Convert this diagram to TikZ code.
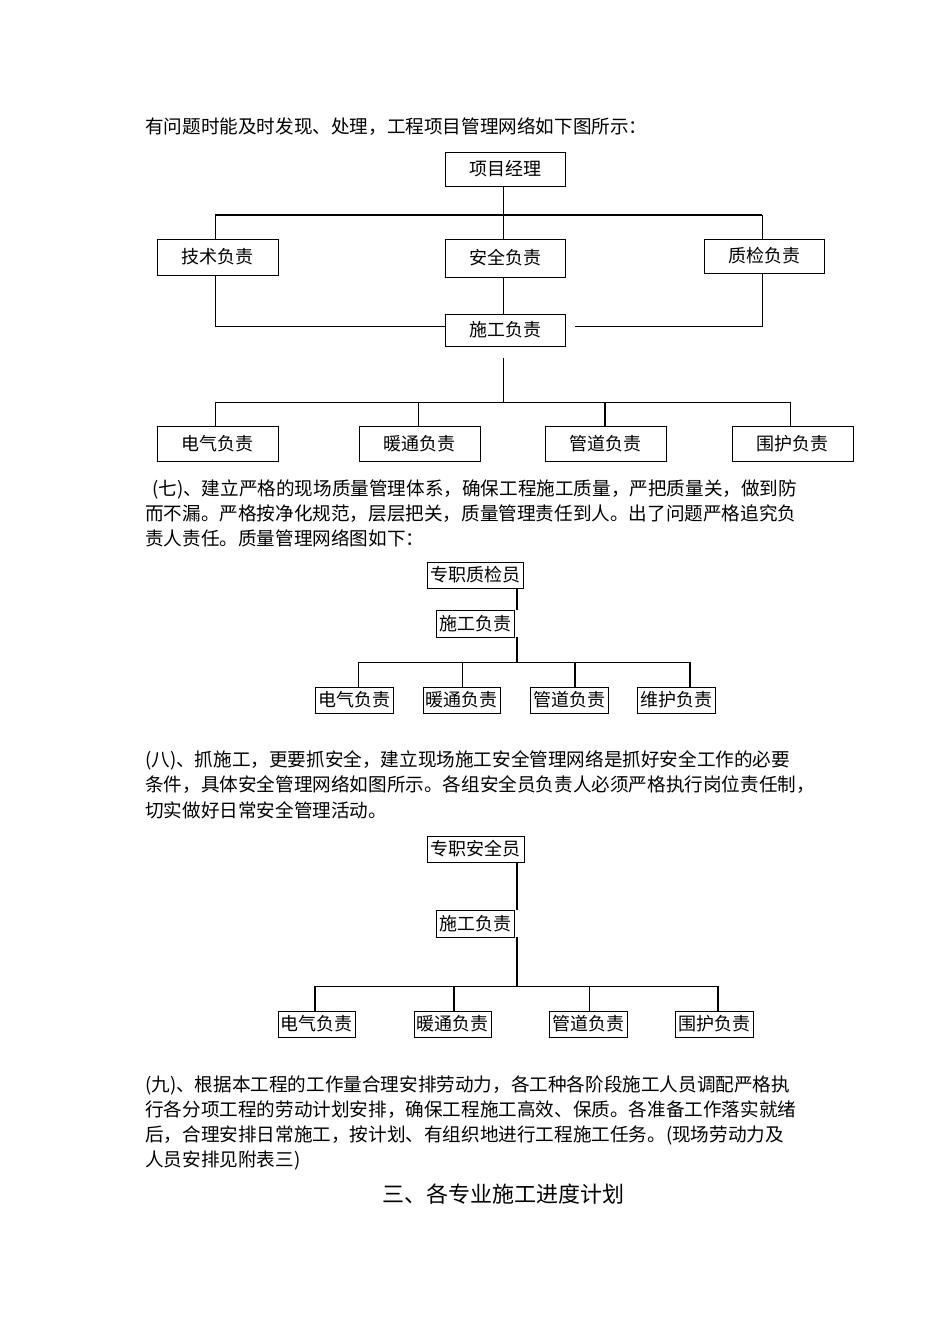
\documentclass[tikz,border=0pt]{standalone}
\usepackage{fontspec}
\setmainfont{Noto Sans CJK SC}
\begin{document}
\begin{tikzpicture}[x=1pt,y=-1pt,
  box/.style={draw,line width=1pt,inner sep=0pt,font=\fontsize{18}{18}\selectfont},
  sbox/.style={draw,line width=0.9pt,inner sep=0pt,font=\fontsize{18}{18}\selectfont},
  ln/.style={line width=1pt},
  tk/.style={line width=1.8pt},
  para/.style={anchor=west,inner sep=0pt,font=\fontsize{18.6}{18.6}\selectfont}]
\useasboundingbox (0,0) rectangle (950,1344);
% text
\node[para] (t0) at (145,127) {有问题时能及时发现、处理，工程项目管理网络如下图所示：};
\node[para] (t1) at (152,489) {(七)、建立严格的现场质量管理体系，确保工程施工质量，严把质量关，做到防};
\node[para] (t2) at (145,514) {而不漏。严格按净化规范，层层把关，质量管理责任到人。出了问题严格追究负};
\node[para] (t3) at (145,538) {责人责任。质量管理网络图如下：};
\node[para] (t4) at (145,760) {(八)、抓施工，更要抓安全，建立现场施工安全管理网络是抓好安全工作的必要};
\node[para] (t5) at (145,785) {条件，具体安全管理网络如图所示。各组安全员负责人必须严格执行岗位责任制，};
\node[para] (t6) at (145,810) {切实做好日常安全管理活动。};
\node[para] (t7) at (145,1085) {(九)、根据本工程的工作量合理安排劳动力，各工种各阶段施工人员调配严格执};
\node[para] (t8) at (145,1110) {行各分项工程的劳动计划安排，确保工程施工高效、保质。各准备工作落实就绪};
\node[para] (t9) at (145,1135) {后，合理安排日常施工，按计划、有组织地进行工程施工任务。(现场劳动力及};
\node[para] (t10) at (145,1160) {人员安排见附表三)};
\node[inner sep=0pt,font=\fontsize{22}{22}\selectfont] (h) at (503,1194) {三、各专业施工进度计划};
% chart 1
\node[box,minimum width=120,minimum height=34] (pm) at (505,169) {项目经理};
\node[box,minimum width=121,minimum height=36] (js) at (217.5,257) {技术负责};
\node[box,minimum width=120,minimum height=38] (aq) at (505,258) {安全负责};
\node[box,minimum width=120,minimum height=34] (zj) at (764,256) {质检负责};
\node[box,minimum width=120,minimum height=32] (sg) at (505,330) {施工负责};
\node[box,minimum width=121,minimum height=35] (dq) at (217.5,443.5) {电气负责};
\node[box,minimum width=121,minimum height=35] (nt) at (419.5,443.5) {暖通负责};
\node[box,minimum width=121,minimum height=35] (gd) at (605.5,443.5) {管道负责};
\node[box,minimum width=121,minimum height=35] (wh) at (792.5,443.5) {围护负责};
\coordinate (c1) at (503,215);
\coordinate (c2) at (503,402);
\draw[ln] (pm.south -| c1) -- (c1);
\draw[tk] (215,215) -- (762,215);
\draw[ln] (215,215) -- (js.north -| 215,0);
\draw[ln] (c1) -- (aq.north -| c1);
\draw[ln] (762,215) -- (zj.north -| 762,0);
\draw[ln] (js.south -| 215,0) -- (215,326) -- (sg.west |- 0,326);
\draw[ln] (zj.south -| 762,0) -- (762,326) -- (575,326);
\draw[ln] (aq.south -| c1) -- (sg.north -| c1);
\draw[ln] (503,358) -- (c2);
\draw[ln] (215,402) -- (790,402);
\draw[ln] (215,402) -- (dq.north -| 215,0);
\draw[ln] (418,402) -- (nt.north -| 418,0);
\draw[tk] (605,402) -- (gd.north -| 605,0);
\draw[ln] (790,402) -- (wh.north -| 790,0);
% chart 2
\node[sbox,minimum width=96,minimum height=26] (q0) at (475,575) {专职质检员};
\node[sbox,minimum width=78,minimum height=27] (q1) at (475,623.5) {施工负责};
\node[sbox,minimum width=78,minimum height=26] (q2) at (354,700) {电气负责};
\node[sbox,minimum width=77,minimum height=26] (q3) at (461.5,700) {暖通负责};
\node[sbox,minimum width=78,minimum height=26] (q4) at (569,700) {管道负责};
\node[sbox,minimum width=78,minimum height=26] (q5) at (676,700) {维护负责};
\draw[tk] (q0.south -| 517,0) -- (q1.north -| 517,0);
\draw[tk] (q1.south -| 517,0) -- (517,662);
\draw[ln] (358,662) -- (690,662);
\draw[ln] (358,662) -- (q2.north -| 358,0);
\draw[ln] (462,662) -- (q3.north -| 462,0);
\draw[tk] (575,662) -- (q4.north -| 575,0);
\draw[tk] (690,662) -- (q5.north -| 690,0);
% chart 3
\node[sbox,minimum width=97,minimum height=26] (s0) at (475.5,849) {专职安全员};
\node[sbox,minimum width=78,minimum height=27] (s1) at (475,923.5) {施工负责};
\node[sbox,minimum width=77,minimum height=26] (s2) at (316.5,1024) {电气负责};
\node[sbox,minimum width=77,minimum height=26] (s3) at (452.5,1024) {暖通负责};
\node[sbox,minimum width=78,minimum height=26] (s4) at (588,1024) {管道负责};
\node[sbox,minimum width=78,minimum height=26] (s5) at (714,1024) {围护负责};
\draw[tk] (s0.south -| 517,0) -- (s1.north -| 517,0);
\draw[tk] (s1.south -| 517,0) -- (517,986);
\draw[ln] (315,986) -- (718,986);
\draw[tk] (315,986) -- (s2.north -| 315,0);
\draw[tk] (454,986) -- (s3.north -| 454,0);
\draw[ln] (589,986) -- (s4.north -| 589,0);
\draw[tk] (718,986) -- (s5.north -| 718,0);
\end{tikzpicture}
\end{document}
